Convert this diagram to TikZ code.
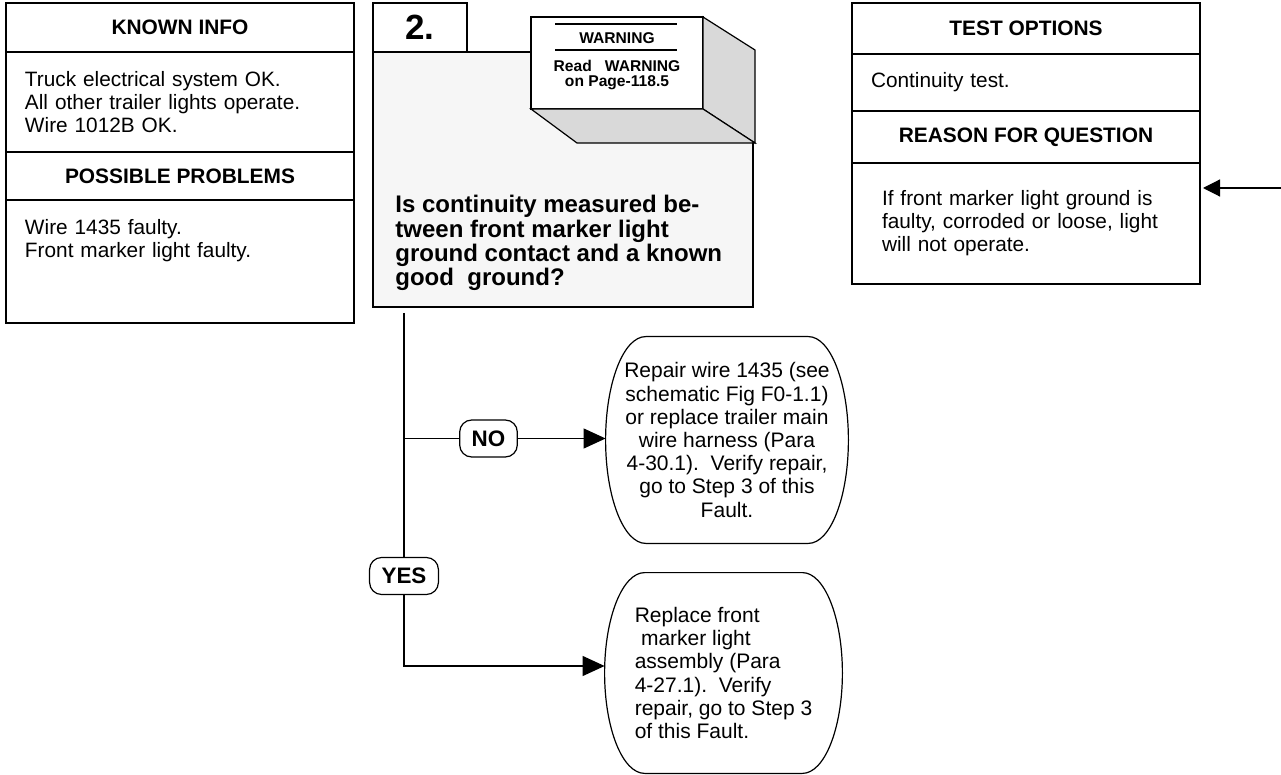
\documentclass[tikz,border=0pt]{standalone}
\usepackage{fontspec}
\setmainfont{Liberation Sans}
\usetikzlibrary{arrows.meta, positioning, calc}
\definecolor{qgray}{HTML}{F6F6F6}
\definecolor{facegray}{HTML}{D9D9D9}

% side-bulged outline round a plain node
\newcommand{\bulgeoutline}[1]{%
  \draw[wire] let \p1=(#1.north west), \p2=(#1.south east), \n1={(\y1-\y2)/2} in
    (\x1+20pt,\y1) -- (\x2-20pt,\y1)
    arc[start angle=90, end angle=-90, x radius=20pt, y radius=\n1]
    -- (\x1+20pt,\y2)
    arc[start angle=270, end angle=90, x radius=20pt, y radius=\n1] -- cycle;}

\begin{document}
\begin{tikzpicture}[x=0.5pt, y=-0.5pt,
    wire/.style={line width=0.6pt},
    headcell/.style={draw, wire, outer sep=0pt, minimum width=174pt, font=\fontsize{10.45}{11.5}\selectfont\bfseries},
    bodycell/.style={draw, wire, outer sep=0pt, text width=155pt, inner xsep=9.5pt, align=left, font=\fontsize{10.4}{11.5}\selectfont},
    fixbox/.style={inner sep=0pt, font=\fontsize{10.5}{11.6}\selectfont},
    yn/.style={draw, wire, rounded corners=6pt, fill=white, inner xsep=6pt, inner ysep=0pt, minimum height=18.5pt, font=\fontsize{11.2}{12}\selectfont\bfseries},
    arr/.style={wire, -{Triangle[length=11pt, width=10pt]}},
    smallarr/.style={wire, -{Triangle[length=8.5pt, width=8.5pt]}, shorten >=1.5pt},
]
\useasboundingbox (0,0) rectangle (1281,775);

% Known info / possible problems
\node[headcell, minimum height=24.5pt] (known) at (180,27.5) {KNOWN INFO};
\node[bodycell, minimum height=50pt, below=0pt of known] (knownbody)
    {Truck electrical system OK.\\All other trailer lights operate.\\Wire 1012B OK.};
\node[headcell, minimum height=24pt, below=0pt of knownbody] (problems) {POSSIBLE PROBLEMS};
\node[bodycell, minimum height=61.5pt, below=0pt of problems] (probbody)
    {Wire 1435 faulty.\\Front marker light faulty.\\~\\~};

% Test options / reason for question
\node[headcell, minimum height=25.5pt] (tests) at (1026,28.5) {TEST OPTIONS};
\node[bodycell, minimum height=28.5pt, below=0pt of tests] (testbody) {Continuity test.};
\node[headcell, minimum height=26pt, below=0pt of testbody] (reason) {REASON FOR QUESTION};
\node[bodycell, text width=144pt, inner xsep=15pt, minimum height=60.5pt, below=0pt of reason] (reasonbody)
    {If front marker light ground is\\faulty, corroded or loose, light\\will not operate.};

% Question box
\node[draw, wire, fill=qgray, outer sep=0pt, minimum width=190pt, minimum height=127.5pt] (qbox) at (563,179.5) {};
\node[draw, wire, fill=white, outer sep=0pt, minimum width=47pt, minimum height=24.5pt,
    font=\fontsize{17.5}{20}\selectfont\bfseries] (stepno) at (420,27.5) {2.};
\node[anchor=north west, align=left, inner sep=0pt, font=\fontsize{12}{12.2}\selectfont\bfseries] (question) at (395,195)
    {Is continuity measured be-\\tween front marker light\\ground contact and a known\\good\ \ ground?};

% Warning block
\node[draw, wire, fill=white, outer sep=0pt, minimum width=86pt, minimum height=46pt] (warn) at (617,63) {};
\draw[wire, fill=facegray] (warn.north east) -- ++(52,33) -- ++(0,93) -- (warn.south east) -- cycle;
\draw[wire, fill=facegray] (warn.south west) -- (warn.south east) -- ++(52,34) -- ++(-178,0) -- cycle;
\node[inner sep=0pt, font=\fontsize{7.8}{7.5}\selectfont\bfseries] (warntitle) at (617,38) {WARNING};
\draw[line width=1pt] (555,24) -- (677,24);
\draw[line width=1pt] (555,50) -- (677,50);
\node[inner sep=0pt, align=center, font=\fontsize{7.8}{7.5}\selectfont\bfseries] (warntext) at (617,75)
    {Read\ \ \ WARNING\\on Page-118.5};

% Repair actions
\node[fixbox, minimum width=121pt, minimum height=103pt, align=center] (fix1) at (727,440)
    {Repair wire 1435 (see\\schematic Fig F0-1.1)\\or replace trailer main\\wire harness (Para\\4-30.1).\ \ Verify repair,\\go to Step 3 of this\\Fault.};
\bulgeoutline{fix1}
\node[fixbox, minimum width=118.5pt, minimum height=100pt, align=left] (fix2) at (723.5,673)
    {Replace front\\\hspace*{0.3em}marker light\\assembly (Para\\4-27.1).\ \ Verify\\repair, go to Step 3\\of this Fault.};
\bulgeoutline{fix2}

% Yes / No branches
\node[yn] (no) at (488.5,438.5) {NO};
\node[yn] (yes) at (404,576) {YES};
\draw[wire, shorten <=3pt] (qbox.south -| yes) -- (yes);
\draw[wire] (no.west -| yes) -- (no);
\draw[arr] (no.east) -- (no.east -| fix1.west);
\draw[arr] (yes) |- ([yshift=3.5pt]fix2.west);

% Incoming arrow
\coordinate (inlet) at (1281,188);
\draw[smallarr] (inlet) -- (inlet -| reasonbody.east);

\end{tikzpicture}
\end{document}
